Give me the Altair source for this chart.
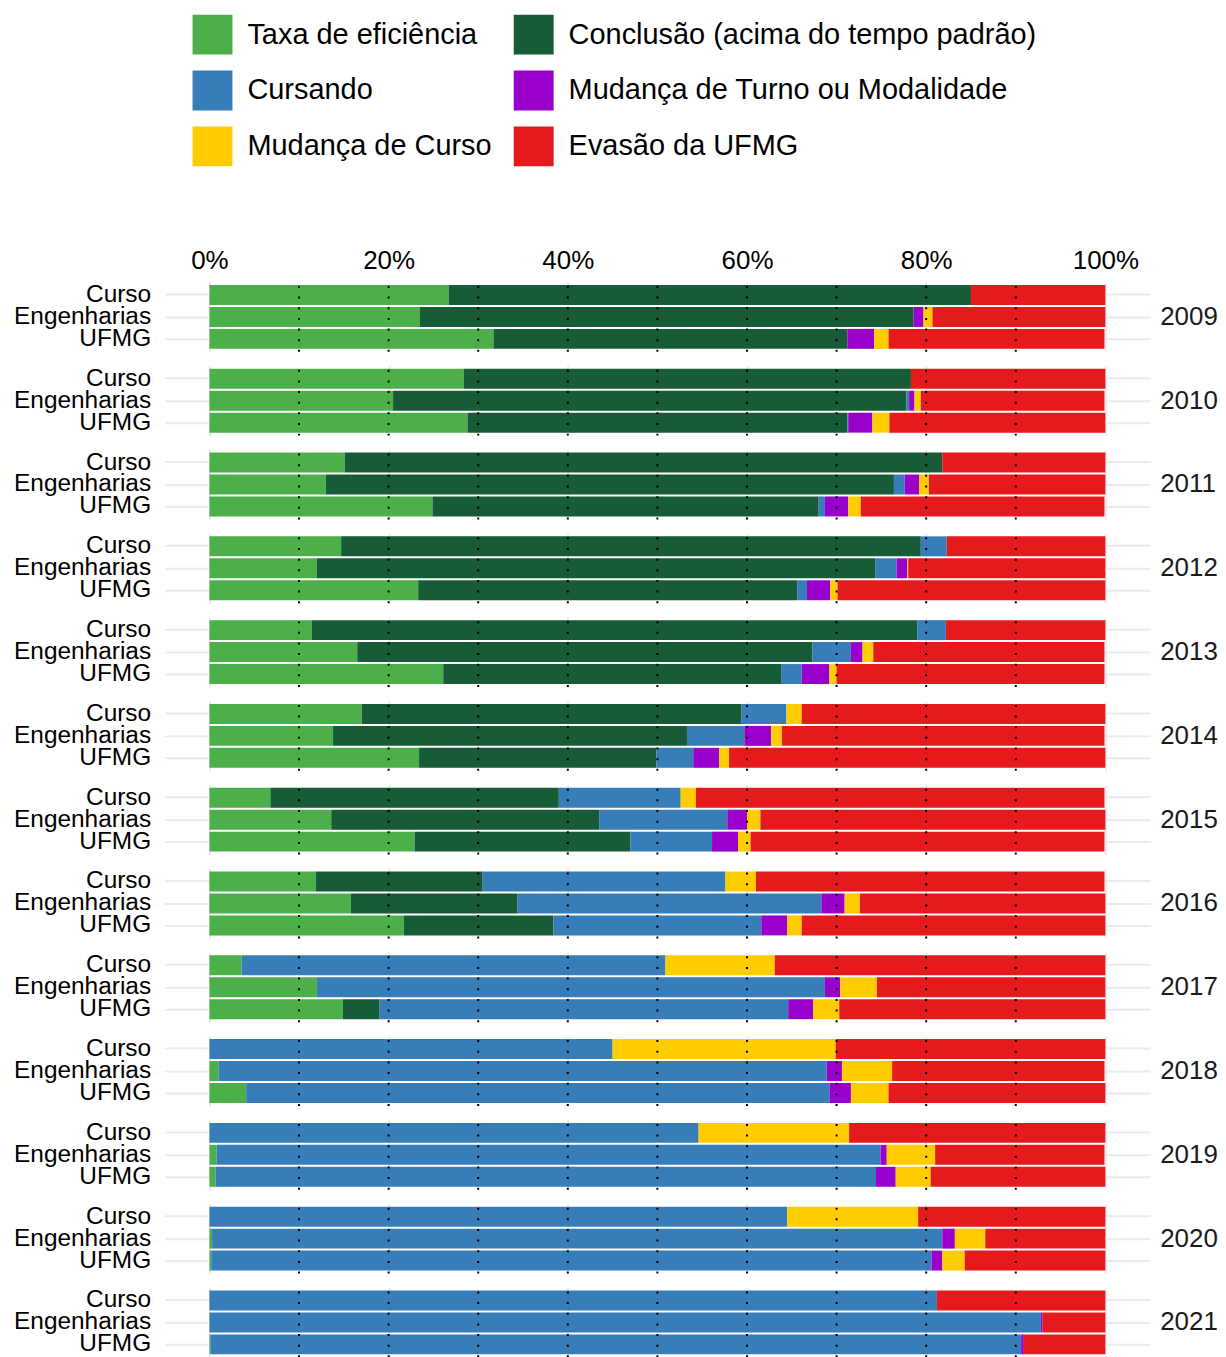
import altair as alt
import pandas as pd

years = [2009, 2010, 2011, 2012, 2013, 2014, 2015, 2016, 2017, 2018, 2019, 2020, 2021]
groups = ["Curso", "Engenharias", "UFMG"]
categories = [
    "Taxa de eficiência",
    "Conclusão (acima do tempo padrão)",
    "Cursando",
    "Mudança de Turno ou Modalidade",
    "Mudança de Curso",
    "Evasão da UFMG",
]
colors = ["#4DAF4A", "#175C36", "#377EB8", "#9900CC", "#FFCC00", "#E41A1C"]
# legend is filled column by column
legend_order = [0, 2, 4, 1, 3, 5]

# values in %, per year: [Curso, Engenharias, UFMG]
taxa = [
    26.7, 23.5, 31.7,
    28.4, 20.5, 28.8,
    15.1, 13.0, 24.9,
    14.7, 12.0, 23.3,
    11.4, 16.5, 26.1,
    17.0, 13.8, 23.4,
    6.8, 13.6, 22.9,
    11.9, 15.8, 21.7,
    3.6, 12.0, 14.9,
    0.0, 1.0, 4.1,
    0.0, 0.8, 0.7,
    0.0, 0.3, 0.2,
    0.0, 0.0, 0.1,
]
conclusao = [
    58.3, 55.1, 39.5,
    49.9, 57.3, 42.4,
    66.7, 63.4, 43.1,
    64.7, 62.3, 42.3,
    67.6, 50.8, 37.7,
    42.4, 39.5, 26.5,
    32.2, 29.9, 24.1,
    18.6, 18.6, 16.7,
    0.0, 0.0, 4.1,
    0.0, 0.0, 0.0,
    0.0, 0.0, 0.0,
    0.0, 0.0, 0.0,
    0.0, 0.0, 0.0,
]
cursando = [
    0.0, 0.0, 0.0,
    0.0, 0.3, 0.1,
    0.0, 1.2, 0.7,
    2.9, 2.4, 1.1,
    3.2, 4.3, 2.3,
    5.0, 6.4, 4.1,
    13.6, 14.3, 9.1,
    27.1, 33.9, 23.2,
    47.3, 56.7, 45.6,
    45.0, 67.9, 65.1,
    54.6, 74.1, 73.7,
    64.5, 81.5, 80.4,
    81.2, 92.8, 90.5,
]
mudanca_turno = [
    0.0, 1.1, 3.0,
    0.0, 0.6, 2.7,
    0.0, 1.6, 2.6,
    0.0, 1.2, 2.6,
    0.0, 1.3, 3.1,
    0.0, 3.0, 2.9,
    0.0, 2.2, 2.9,
    0.0, 2.6, 2.9,
    0.0, 1.7, 2.8,
    0.0, 1.7, 2.4,
    0.0, 0.7, 2.2,
    0.0, 1.4, 1.2,
    0.0, 0.2, 0.3,
]
mudanca_curso = [
    0.0, 1.0, 1.6,
    0.0, 0.7, 1.9,
    0.0, 1.1, 1.4,
    0.0, 0.1, 0.8,
    0.0, 1.2, 0.8,
    1.7, 1.2, 1.1,
    1.7, 1.5, 1.4,
    3.4, 1.7, 1.6,
    12.2, 4.1, 2.9,
    24.9, 5.6, 4.2,
    16.8, 5.4, 3.9,
    14.6, 3.4, 2.5,
    0.0, 0.0, 0.0,
]
evasao = [
    15.0, 19.3, 24.1,
    21.7, 20.5, 24.1,
    18.2, 19.7, 27.2,
    17.7, 22.0, 29.9,
    17.8, 25.8, 29.9,
    33.9, 36.0, 42.0,
    45.6, 38.5, 39.5,
    38.9, 27.4, 33.9,
    36.9, 25.5, 29.7,
    30.1, 23.7, 24.2,
    28.6, 18.9, 19.5,
    20.9, 13.4, 15.7,
    18.8, 7.0, 9.1,
]
guide_lines = [10, 20, 30, 40, 50, 60, 70, 80, 90]
axis_ticks = [0, 20, 40, 60, 80, 100]

series = [taxa, conclusao, cursando, mudanca_turno, mudanca_curso, evasao]

rows = []
for i, yr in enumerate(years):
    for j, g in enumerate(groups):
        k = i * 3 + j
        for ci, (cat, vals) in enumerate(zip(categories, series)):
            if vals[k] > 0:
                rows.append(dict(kind="bar", ano=str(yr), grupo=g, cat=cat,
                                 ordem=ci, valor=vals[k], pos=None))
    for gx in guide_lines:
        rows.append(dict(kind="guide", ano=str(yr), grupo=None, cat=None,
                         ordem=None, valor=None, pos=gx))
    rows.append(dict(kind="label", ano=str(yr), grupo=None, cat=None,
                     ordem=None, valor=None, pos=None))
df = pd.DataFrame(rows)

FONT = "Liberation Sans"
PLOT_W = 988
PLOT_H = 70

xscale = alt.Scale(domain=[-5, 105], nice=False, zero=False)
xaxis = alt.Axis(orient="top", values=axis_ticks, labelExpr="datum.value + '%'",
                 title=None, grid=True, gridColor="#EBEBEB", gridWidth=2,
                 ticks=False, domain=False, labelFontSize=26, labelPadding=9,
                 labelColor="black", labelFont=FONT)
yscale = alt.Scale(domain=groups, paddingInner=0.0909, paddingOuter=0.136)

bars = alt.Chart().transform_filter("datum.kind == 'bar'").mark_bar().encode(
    x=alt.X("valor:Q", stack="zero", scale=xscale, axis=xaxis),
    y=alt.Y("grupo:N", sort=groups, scale=yscale,
            axis=alt.Axis(title=None, ticks=False, domain=False, grid=True,
                          gridColor="#EBEBEB", gridWidth=2, labelFontSize=24.5,
                          labelPadding=14, labelColor="black", labelFont=FONT,
                          bandPosition=0.5)),
    color=alt.Color("cat:N",
                    scale=alt.Scale(domain=[categories[i] for i in legend_order],
                                    range=[colors[i] for i in legend_order]),
                    legend=alt.Legend(title=None, orient="none", legendX=28,
                                      legendY=-268, columns=2,
                                      symbolType="square", symbolSize=1600,
                                      symbolStrokeWidth=0, symbolOpacity=1,
                                      labelFontSize=29, labelOffset=15,
                                      rowPadding=16, columnPadding=21,
                                      labelColor="black", labelLimit=700,
                                      labelFont=FONT, padding=0)),
    order=alt.Order("ordem:Q", sort="ascending"),
)

rules = alt.Chart().transform_filter("datum.kind == 'guide'").mark_rule(
    color="black", strokeWidth=2, strokeDash=[2, 8.67], strokeCap="butt"
).encode(
    x=alt.X("pos:Q", scale=xscale, axis=xaxis),
    y=alt.value(PLOT_H),
    y2=alt.value(0),
)

year_labels = alt.Chart().transform_filter("datum.kind == 'label'").mark_text(
    align="left", baseline="middle", dx=10, fontSize=26, color="#1a1a1a",
    font=FONT
).encode(
    x=alt.X(datum=105, scale=xscale),
    y=alt.Y(datum="Engenharias", scale=yscale),
    text="ano:N",
)

chart = alt.layer(bars, rules, year_labels, data=df).properties(
    width=PLOT_W, height=PLOT_H,
    view=alt.ViewBackground(stroke="transparent", strokeWidth=0),
).facet(
    row=alt.Row("ano:N", title=None, header=alt.Header(labels=False, title=None)),
    spacing=14,
    bounds="flush",
).properties(
    padding={"left": 5, "top": 5, "right": 0, "bottom": 5},
).configure(
    font=FONT, background="white"
).configure_view(stroke="transparent", strokeWidth=0)

chart.save("out.html", embed_options={"renderer": "svg", "actions": False})
